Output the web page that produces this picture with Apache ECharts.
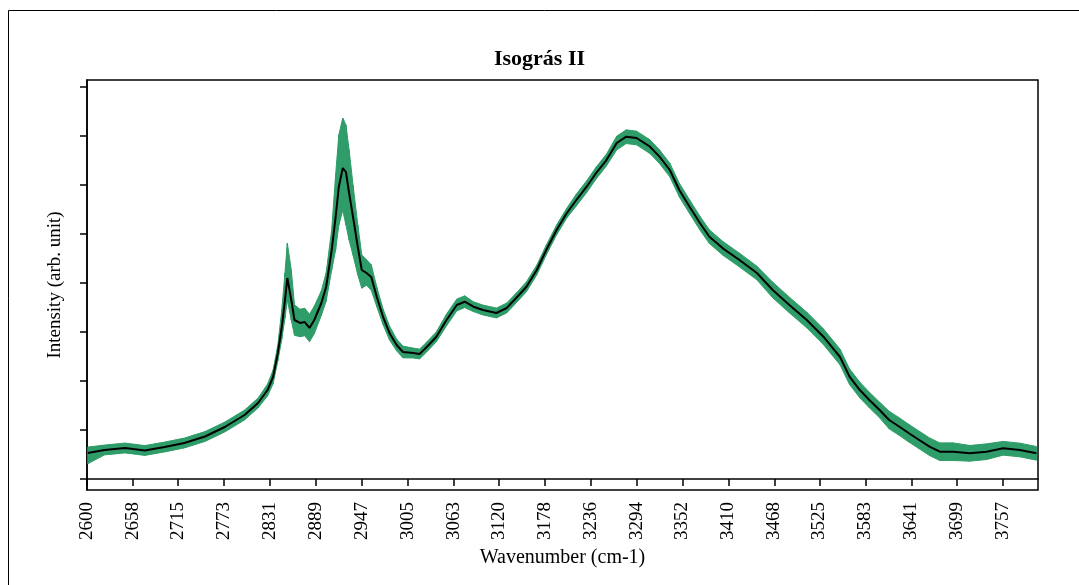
<!DOCTYPE html>
<html>
<head>
<meta charset="utf-8">
<title>Isográs II</title>
<script src="https://cdn.jsdelivr.net/npm/echarts@6/dist/echarts.min.js"></script>
<style>
  html, body { margin: 0; padding: 0; background: #fff; }
  #chart { width: 1079px; height: 585px; }
</style>
</head>
<body>
<div id="chart"></div>
<script>
// wavenumber (cm-1) of each read point
const wavenumber = [
  2601, 2622, 2648, 2673, 2698, 2723, 2749, 2774, 2799, 2816,
  2828, 2835, 2841, 2846, 2850, 2853, 2858, 2862, 2869, 2875,
  2881, 2887, 2896, 2902, 2909, 2914, 2918, 2923, 2927, 2931,
  2936, 2942, 2947, 2953, 2959, 2966, 2974, 2982, 2991, 2999,
  3012, 3020, 3029, 3041, 3054, 3067, 3077, 3088, 3100, 3117,
  3130, 3142, 3155, 3168, 3180, 3193, 3206, 3218, 3231, 3243,
  3256, 3269, 3281, 3294, 3311, 3323, 3336, 3348, 3361, 3374,
  3386, 3403, 3424, 3446, 3466, 3487, 3509, 3530, 3551, 3563,
  3576, 3588, 3601, 3613, 3626, 3638, 3651, 3664, 3677, 3694,
  3715, 3736, 3757, 3778, 3799
]

// mean intensity (black line), arb. unit
const meanIntensity = [
  0.531, 0.592, 0.633, 0.582, 0.653, 0.735, 0.867, 1.061, 1.306, 1.551,
  1.816, 2.082, 2.571, 3.102, 3.653, 4.102, 3.653, 3.245, 3.184, 3.204,
  3.082, 3.245, 3.592, 3.918, 4.673, 5.347, 5.959, 6.347, 6.265, 5.837,
  5.347, 4.735, 4.265, 4.204, 4.122, 3.714, 3.306, 2.980, 2.735, 2.592,
  2.571, 2.551, 2.694, 2.898, 3.245, 3.551, 3.618, 3.516, 3.449, 3.388,
  3.490, 3.694, 3.924, 4.265, 4.673, 5.082, 5.429, 5.694, 5.965, 6.245,
  6.510, 6.857, 6.986, 6.959, 6.782, 6.578, 6.306, 5.898, 5.557, 5.224,
  4.945, 4.708, 4.469, 4.204, 3.857, 3.551, 3.245, 2.904, 2.490, 2.088,
  1.816, 1.612, 1.408, 1.204, 1.067, 0.933, 0.796, 0.659, 0.557, 0.557,
  0.524, 0.557, 0.627, 0.592, 0.524
]

// spread above / below the mean (green band)
const spreadUp = [
  0.12, 0.10, 0.10, 0.10, 0.10, 0.10, 0.10, 0.10, 0.10, 0.10,
  0.12, 0.14, 0.16, 0.35, 0.55, 0.71, 0.61, 0.31, 0.28, 0.28,
  0.28, 0.28, 0.25, 0.29, 0.41, 0.86, 1.06, 1.02, 0.96, 0.88,
  0.65, 0.45, 0.31, 0.27, 0.25, 0.20, 0.16, 0.14, 0.12, 0.12,
  0.10, 0.10, 0.10, 0.10, 0.12, 0.12, 0.12, 0.10, 0.10, 0.10,
  0.10, 0.10, 0.10, 0.10, 0.10, 0.10, 0.10, 0.12, 0.12, 0.12,
  0.12, 0.14, 0.14, 0.14, 0.14, 0.14, 0.14, 0.14, 0.14, 0.14,
  0.14, 0.14, 0.14, 0.14, 0.16, 0.16, 0.16, 0.16, 0.16, 0.16,
  0.16, 0.16, 0.16, 0.18, 0.18, 0.18, 0.18, 0.18, 0.18, 0.18,
  0.16, 0.16, 0.14, 0.14, 0.14
]
const spreadDown = [
  0.22, 0.10, 0.10, 0.10, 0.10, 0.10, 0.10, 0.10, 0.10, 0.10,
  0.12, 0.14, 0.16, 0.25, 0.37, 0.45, 0.41, 0.31, 0.28, 0.28,
  0.28, 0.28, 0.25, 0.29, 0.41, 0.67, 0.78, 0.86, 1.08, 0.96,
  0.78, 0.57, 0.37, 0.25, 0.27, 0.20, 0.16, 0.14, 0.12, 0.12,
  0.10, 0.10, 0.10, 0.10, 0.12, 0.12, 0.12, 0.10, 0.10, 0.10,
  0.10, 0.10, 0.10, 0.10, 0.10, 0.10, 0.10, 0.12, 0.12, 0.12,
  0.12, 0.14, 0.14, 0.14, 0.14, 0.14, 0.14, 0.14, 0.14, 0.14,
  0.14, 0.14, 0.14, 0.14, 0.16, 0.16, 0.16, 0.16, 0.16, 0.16,
  0.16, 0.16, 0.16, 0.18, 0.18, 0.18, 0.18, 0.18, 0.18, 0.18,
  0.16, 0.16, 0.14, 0.14, 0.14
]

const xTicks = [
  2600, 2658, 2715, 2773, 2831, 2889, 2947, 3005, 3063, 3120,
  3178, 3236, 3294, 3352, 3410, 3468, 3525, 3583, 3641, 3699, 3757
]
const yTicks = [0, 1, 2, 3, 4, 5, 6, 7, 8]

const SERIF = 'Liberation Serif, Times New Roman, serif'
const GREEN = '#2f9d69'

// [wavenumber, low, high] for the band
const band = wavenumber.map((w, i) => [
  w,
  +(meanIntensity[i] - spreadDown[i]).toFixed(3),
  +(meanIntensity[i] + spreadUp[i]).toFixed(3),
])
const mean = wavenumber.map((w, i) => [w, meanIntensity[i]])

// one quad between each point and the next one
function renderBand(params, api) {
  const i = params.dataIndex
  if (i >= band.length - 1) return null
  const a = band[i]
  const b = band[i + 1]
  const p1 = api.coord([a[0], a[2]])
  const p2 = api.coord([b[0], b[2]])
  const p3 = api.coord([b[0], b[1]])
  const p4 = api.coord([a[0], a[1]])
  return {
    type: 'polygon',
    shape: { points: [p1, p2, p3, p4] },
    style: { fill: GREEN, stroke: GREEN, lineWidth: 1 },
  }
}

const chart = echarts.init(document.getElementById('chart'))

chart.setOption({
  animation: false,
  backgroundColor: '#fff',
  title: {
    text: 'Isográs II',
    left: 'center',
    top: 43,
    textStyle: { fontFamily: SERIF, fontSize: 22, fontWeight: 'bold', color: '#000' },
  },
  graphic: [
    {
      // outer frame of the chart area
      type: 'rect',
      shape: { x: 8.5, y: 10.5, width: 1090, height: 600 },
      style: { fill: 'none', stroke: '#000', lineWidth: 1 },
      silent: true,
    },
  ],
  grid: {
    left: 87,
    right: 41,
    top: 80,
    bottom: 95,
    show: true,
    borderColor: '#000',
    borderWidth: 1.5,
  },
  xAxis: {
    type: 'value',
    min: 2600,
    max: 3801,
    name: 'Wavenumber (cm-1)',
    nameLocation: 'middle',
    nameGap: 56,
    nameTextStyle: { fontFamily: SERIF, fontSize: 20, color: '#000' },
    axisLine: { lineStyle: { color: '#000', width: 1.5 } },
    axisTick: { customValues: xTicks, length: 7, lineStyle: { color: '#000', width: 1.5 } },
    axisLabel: {
      customValues: xTicks,
      rotate: 90,
      margin: 12,
      fontFamily: SERIF,
      fontSize: 19,
      color: '#000',
      formatter: (v) => String(Math.round(v)),
    },
    splitLine: { show: false },
  },
  yAxis: {
    type: 'value',
    min: -0.2245,
    max: 8.143,
    name: 'Intensity (arb. unit)',
    nameLocation: 'middle',
    nameGap: 22,
    nameTextStyle: { fontFamily: SERIF, fontSize: 19, color: '#000' },
    axisLine: { show: true, lineStyle: { color: '#000', width: 1.5 } },
    axisTick: { show: true, customValues: yTicks, length: 7, lineStyle: { color: '#000', width: 1.5 } },
    axisLabel: { show: false },
    splitLine: { show: false },
  },
  series: [
    {
      name: 'spread',
      type: 'custom',
      renderItem: renderBand,
      data: band,
      encode: { x: 0, y: [1, 2] },
      clip: true,
      silent: true,
      z: 2,
    },
    {
      name: 'mean',
      type: 'line',
      data: mean,
      symbol: 'none',
      lineStyle: { color: '#000', width: 2 },
      z: 5,
    },
  ],
})
</script>
</body>
</html>
